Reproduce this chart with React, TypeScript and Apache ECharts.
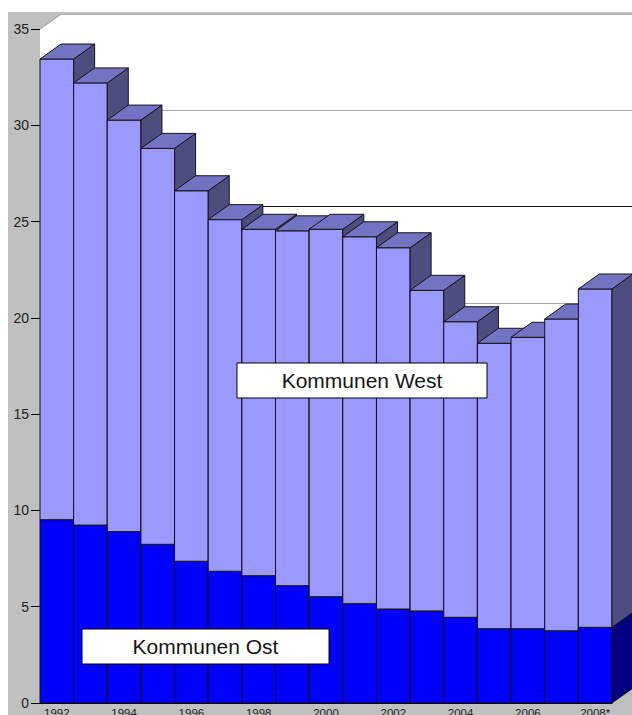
import React, { useEffect, useRef } from "react";
import * as echarts from "echarts";

const years = [
  "1992", "1993", "1994", "1995", "1996", "1997", "1998", "1999", "2000",
  "2001", "2002", "2003", "2004", "2005", "2006", "2007", "2008*",
];
const ostValues = [
  9.52, 9.24, 8.9, 8.24, 7.36, 6.84, 6.61, 6.09, 5.52, 5.16, 4.88, 4.78, 4.45,
  3.86, 3.86, 3.75, 3.93,
];
const westValues = [
  23.92, 22.96, 21.37, 20.56, 19.24, 18.26, 17.99, 18.43, 19.08, 19.05, 18.76,
  16.65, 15.35, 14.82, 15.13, 16.19, 17.57,
];
const yMin = 0;
const yMax = 35;
const yStep = 5;

const DX = 21;
const DY = -15;

export default function App() {
  const ref = useRef<HTMLDivElement>(null);
  useEffect(() => {
    if (!ref.current) return;
    const chart = echarts.init(ref.current, null, { renderer: "svg" });
    const data = years.map((_, i) => [i, ostValues[i], westValues[i]]);
    const stroke = "#151515";
    const poly = (pts: number[][], fill: string) => ({
      type: "polygon",
      shape: { points: pts },
      style: { fill, stroke, lineWidth: 1 },
    });
    const gridColors = [
      "#a8a8a8", "#a8a8a8", "#a8a8a8", "#a8a8a8", "#a8a8a8", "#111111", "#a8a8a8", "#a8a8a8",
    ];
    chart.setOption({
      animation: false,
      backgroundColor: "#c0c0c0",
      textStyle: { fontFamily: "Arial, 'Liberation Sans', sans-serif" },
      grid: [
        {
          left: 32,
          top: 17,
          width: 572,
          height: 674,
          show: false,
          containLabel: false,
          outerBoundsMode: "none",
        },
        {
          left: 53,
          top: 2,
          right: 0,
          height: 674,
          show: true,
          backgroundColor: "#ffffff",
          borderWidth: 0,
          containLabel: false,
          outerBoundsMode: "none",
        },
      ],
      xAxis: [
        {
          type: "category",
          gridIndex: 0,
          data: years,
          axisLine: { show: true, lineStyle: { color: "#000", width: 1 } },
          axisTick: { show: false },
          axisLabel: { interval: 1, fontSize: 11.5, margin: 4, color: "#222" },
        },
        { type: "category", gridIndex: 1, data: years, show: false },
      ],
      yAxis: [
        {
          type: "value",
          gridIndex: 0,
          min: yMin,
          max: yMax,
          interval: yStep,
          axisLine: { show: true, lineStyle: { color: "#000", width: 1 } },
          axisTick: { show: true, length: 9, lineStyle: { color: "#000" } },
          axisLabel: { fontSize: 14, margin: 11, color: "#222" },
          splitLine: { show: false },
        },
        {
          type: "value",
          gridIndex: 1,
          min: yMin,
          max: yMax,
          interval: yStep,
          axisLine: { show: false },
          axisTick: { show: false },
          axisLabel: { show: false },
          splitLine: { show: true, lineStyle: { color: gridColors, width: 1.2 } },
        },
      ],
      graphic: [
        {
          type: "polygon",
          z: 1,
          shape: { points: [[32, 17], [53, 2], [53, 676], [32, 691]] },
          style: { fill: "#ffffff" },
        },
        {
          type: "line",
          z: 1,
          shape: { x1: 32, y1: 17, x2: 53, y2: 2 },
          style: { stroke: "#a8a8a8", lineWidth: 1.2 },
        },
        {
          type: "group",
          z: 100,
          children: [
            {
              type: "rect",
              shape: { x: 229, y: 351, width: 250, height: 35 },
              style: { fill: "#ffffff", stroke: "#000", lineWidth: 1 },
              z: 100,
            },
            {
              type: "text",
              x: 354,
              y: 368.5,
              z: 101,
              style: {
                text: "Kommunen West",
                fill: "#151515",
                font: "21px Arial, 'Liberation Sans', sans-serif",
                align: "center",
                verticalAlign: "middle",
              },
            },
            {
              type: "rect",
              shape: { x: 74, y: 617, width: 247, height: 35 },
              style: { fill: "#ffffff", stroke: "#000", lineWidth: 1 },
              z: 100,
            },
            {
              type: "text",
              x: 197.5,
              y: 634.5,
              z: 101,
              style: {
                text: "Kommunen Ost",
                fill: "#151515",
                font: "21px Arial, 'Liberation Sans', sans-serif",
                align: "center",
                verticalAlign: "middle",
              },
            },
          ],
        },
      ],
      series: [
        {
          type: "custom",
          xAxisIndex: 0,
          yAxisIndex: 0,
          data,
          encode: { x: 0, y: 1 },
          renderItem: (params: any, api: any) => {
            const i = api.value(0);
            const ost = api.value(1);
            const west = api.value(2);
            const w = api.size([1, 0])[0];
            const p0 = api.coord([i, 0]);
            const p1 = api.coord([i, ost]);
            const p2 = api.coord([i, ost + west]);
            const xl = p0[0] - w / 2;
            const xr = p0[0] + w / 2;
            const y0 = p0[1];
            const y1 = p1[1];
            const y2 = p2[1];
            return {
              type: "group",
              children: [
                poly([[xl, y1], [xr, y1], [xr, y0], [xl, y0]], "#0000ff"),
                poly([[xr, y1], [xr + DX, y1 + DY], [xr + DX, y0 + DY], [xr, y0]], "#000080"),
                poly([[xl, y2], [xr, y2], [xr, y1], [xl, y1]], "#9999ff"),
                poly([[xr, y2], [xr + DX, y2 + DY], [xr + DX, y1 + DY], [xr, y1]], "#4d4d80"),
                poly([[xl, y2], [xr, y2], [xr + DX, y2 + DY], [xl + DX, y2 + DY]], "#7373c4"),
              ],
            };
          },
        },
      ],
    });
    return () => chart.dispose();
  }, []);
  return (
    <div
      style={{
        position: "absolute",
        left: 0,
        top: 0,
        width: 632,
        height: 715,
        background: "#ffffff",
        overflow: "hidden",
      }}
    >
      <div
        ref={ref}
        style={{ position: "absolute", left: 8, top: 12, width: 624, height: 703 }}
      />
    </div>
  );
}
